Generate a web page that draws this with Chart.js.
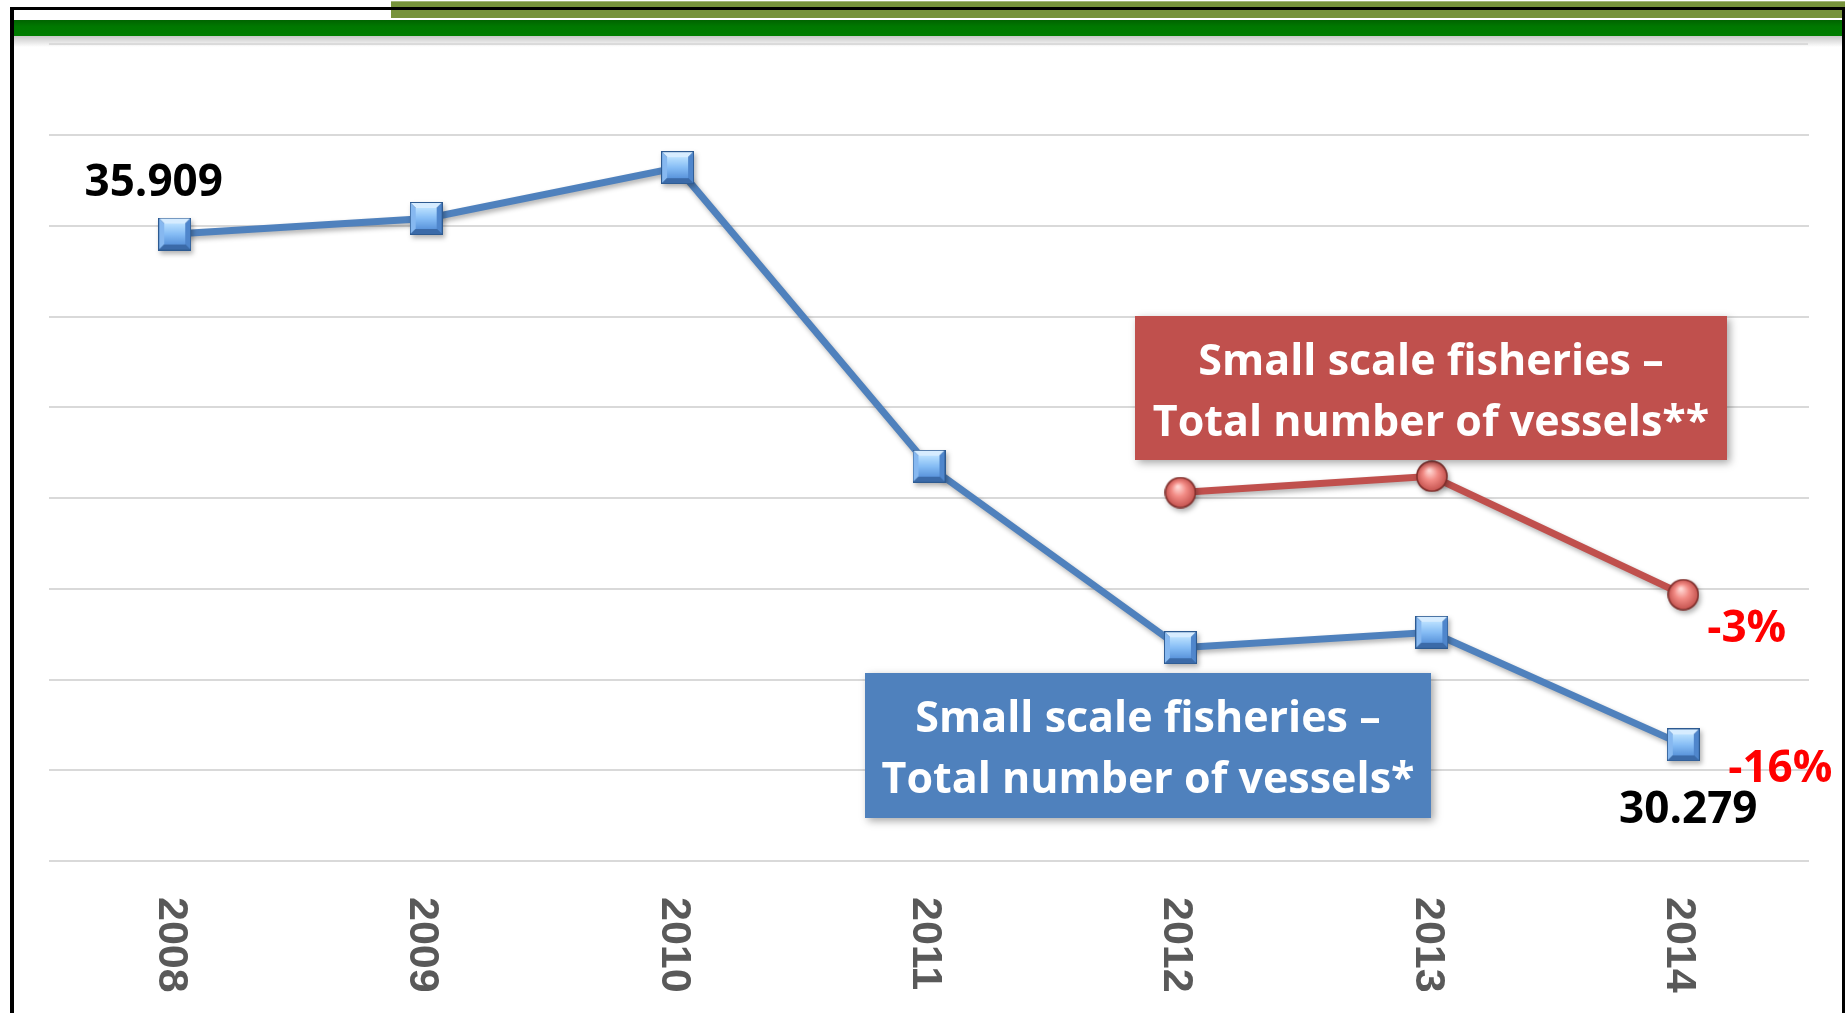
<!DOCTYPE html>
<html>
<head>
<meta charset="utf-8">
<script src="https://cdn.jsdelivr.net/npm/chart.js@4.4.1/dist/chart.umd.min.js"></script>
<style>
	html, body { margin: 0; padding: 0; background: #fff; }
	#wrap { position: relative; width: 1845px; height: 1013px; }
</style>
</head>
<body>
<div id="wrap"><canvas id="myChart"></canvas></div>
<script>
	'use strict';

	var years = ['2008', '2009', '2010', '2011', '2012', '2013', '2014'];
	var vesselsA = [35909, 36080, 36640, 33350, 31350, 31520, 30279];
	var vesselsB = [null, null, null, null, 33060, 33240, 31935];
	var valueLabelsA = ['35.909', '', '', '', '', '', '30.279'];
	var changeLabelsA = ['', '', '', '', '', '', '-16%'];
	var changeLabelsB = ['', '', '', '', '', '', '-3%'];
	var nameA = ['Small scale fisheries \u2013', 'Total number of vessels*'];
	var nameB = ['Small scale fisheries \u2013', 'Total number of vessels**'];
	var yMin = 29000, yMax = 37000, yStep = 1000;

	var BLUE = '#4f81bd';
	var RED = '#c0504d';
	var SANS = '"Open Sans", Lato, sans-serif';

	function poly(g, pts, fill) {
		g.beginPath();
		g.moveTo(pts[0][0], pts[0][1]);
		for (var i = 1; i < pts.length; i++) g.lineTo(pts[i][0], pts[i][1]);
		g.closePath();
		g.fillStyle = fill;
		g.fill();
	}

	// bevelled square marker
	function squareMarker(size) {
		var c = document.createElement('canvas');
		c.width = size; c.height = size;
		var g = c.getContext('2d');
		var s = size - 1, b = 5;
		g.fillStyle = '#2d5a91';
		g.fillRect(0, 0, size, size);
		poly(g, [[1, 1], [s, 1], [s - b, 1 + b], [1 + b, 1 + b]], '#d6ecff');
		poly(g, [[1, 1], [1 + b, 1 + b], [1 + b, s - b], [1, s]], '#86b8f0');
		poly(g, [[s, 1], [s, s], [s - b, s - b], [s - b, 1 + b]], '#4f86cc');
		poly(g, [[1, s], [1 + b, s - b], [s - b, s - b], [s, s]], '#3b6aa8');
		var gr = g.createLinearGradient(0, 1 + b, 0, s - b);
		gr.addColorStop(0, '#b9e0ff');
		gr.addColorStop(0.5, '#86bdf5');
		gr.addColorStop(1, '#5b95dc');
		g.fillStyle = gr;
		g.fillRect(1 + b, 1 + b, s - 1 - 2 * b, s - 1 - 2 * b);
		return c;
	}

	// shaded round marker
	function circleMarker(size) {
		var c = document.createElement('canvas');
		c.width = size; c.height = size;
		var g = c.getContext('2d');
		var r = size / 2 - 1;
		var gr = g.createRadialGradient(size * 0.42, size * 0.32, 1, size / 2, size / 2, r);
		gr.addColorStop(0, '#ffd6d2');
		gr.addColorStop(0.45, '#f28b85');
		gr.addColorStop(1, '#c4524e');
		g.beginPath();
		g.arc(size / 2, size / 2, r, 0, Math.PI * 2);
		g.fillStyle = gr;
		g.fill();
		g.lineWidth = 1.6;
		g.strokeStyle = '#7e2f2c';
		g.stroke();
		return c;
	}

	var decorations = {
		id: 'decorations',
		beforeDraw: function(chart) {
			var c = chart.ctx, W = chart.width, H = chart.height;
			c.save();
			c.fillStyle = '#fff';
			c.fillRect(0, 0, W, H);
			// olive band
			c.fillStyle = '#77933c';
			c.fillRect(391, 1, W - 391, 17);
			c.fillStyle = '#a3b57a';
			c.fillRect(391, 1, W - 391, 1);
			// frame
			c.fillStyle = '#000';
			c.fillRect(10, 7, W - 10, 3);
			c.fillRect(10, 7, 4, H - 7);
			c.fillRect(1842, 7, 3, H - 7);
			// green band
			var gg = c.createLinearGradient(0, 20, 0, 36);
			gg.addColorStop(0, '#006400');
			gg.addColorStop(0.4, '#007800');
			gg.addColorStop(1, '#007d00');
			c.fillStyle = gg;
			c.fillRect(14, 20, 1828, 16);
			var sg = c.createLinearGradient(0, 36, 0, 47);
			sg.addColorStop(0, 'rgba(0,0,0,0.22)');
			sg.addColorStop(1, 'rgba(0,0,0,0)');
			c.fillStyle = sg;
			c.fillRect(14, 36, 1828, 11);
			c.fillStyle = '#dadada';
			c.fillRect(49, 43, 1759, 2);
			c.restore();
		},
		beforeDatasetsDraw: function(chart) {
			var c = chart.ctx;
			c.save();
			c.shadowColor = 'rgba(0,0,0,0.3)';
			c.shadowBlur = 5;
			c.shadowOffsetX = 2;
			c.shadowOffsetY = 3;
		},
		afterDatasetsDraw: function(chart) {
			chart.ctx.restore();
		},
		afterDraw: function(chart) {
			var c = chart.ctx;
			var x = chart.scales.x, y = chart.scales.y;
			c.save();

			// category labels, rotated clockwise
			c.fillStyle = '#595959';
			c.font = 'bold 43px "Liberation Sans"';
			c.textAlign = 'left';
			c.textBaseline = 'alphabetic';
			years.forEach(function(lab, i) {
				c.save();
				c.translate(x.getPixelForValue(i) - 16, 897);
				c.rotate(Math.PI / 2);
				c.fillText(lab, 0, 0);
				c.restore();
			});

			// value labels
			c.font = 'bold 44px ' + SANS;
			c.fillStyle = '#000';
			c.textAlign = 'center';
			c.textBaseline = 'alphabetic';
			valueLabelsA.forEach(function(t, i) {
				if (!t) return;
				var px = x.getPixelForValue(i), py = y.getPixelForValue(vesselsA[i]);
				if (i === 0) c.fillText(t, px - 21, py - 38);
				else c.fillText(t, px + 5, py + 78);
			});

			// change labels
			c.fillStyle = '#ff0000';
			c.textAlign = 'left';
			changeLabelsA.forEach(function(t, i) {
				if (!t) return;
				c.fillText(t, x.getPixelForValue(i) + 45, y.getPixelForValue(vesselsA[i]) + 37);
			});
			changeLabelsB.forEach(function(t, i) {
				if (!t) return;
				c.fillText(t, x.getPixelForValue(i) + 24, y.getPixelForValue(vesselsB[i]) + 47);
			});

			// series callout boxes
			function box(lines, color, l, t, w, h) {
				c.save();
				c.shadowColor = 'rgba(0,0,0,0.35)';
				c.shadowBlur = 8;
				c.shadowOffsetX = 3;
				c.shadowOffsetY = 3;
				c.fillStyle = color;
				c.fillRect(l, t, w, h);
				c.restore();
				c.fillStyle = '#fff';
				c.font = 'bold 43px ' + SANS;
				c.textAlign = 'center';
				c.fillText(lines[0], l + w / 2, t + 59);
				c.fillText(lines[1], l + w / 2, t + 120);
			}
			box(nameB, RED, 1135, 316, 592, 144);
			box(nameA, BLUE, 865, 673, 566, 145);

			c.restore();
		}
	};

	var ctx = document.getElementById('myChart');

	var myChart = new Chart(ctx, {
		type: 'line',
		data: {
			labels: years,
			datasets: [{
				label: nameA.join(' '),
				data: vesselsA,
				borderColor: BLUE,
				borderWidth: 7,
				pointStyle: squareMarker(33),
				pointRadius: 16,
				fill: false,
				tension: 0
			}, {
				label: nameB.join(' '),
				data: vesselsB,
				borderColor: RED,
				borderWidth: 7,
				pointStyle: circleMarker(32),
				pointRadius: 16,
				fill: false,
				tension: 0
			}]
		},
		options: {
			responsive: true,
			maintainAspectRatio: false,
			animation: false,
			layout: {
				padding: { left: 49, right: 36, top: 135, bottom: 152 }
			},
			plugins: {
				legend: { display: false },
				tooltip: { enabled: false }
			},
			scales: {
				x: {
					offset: true,
					grid: { display: false, drawTicks: false },
					border: { display: false },
					ticks: { display: false }
				},
				y: {
					min: yMin,
					max: yMax,
					ticks: { stepSize: yStep, display: false },
					grid: { color: '#d9d9d9', lineWidth: 2, drawTicks: false },
					border: { display: false }
				}
			}
		},
		plugins: [decorations]
	});
</script>
</body>
</html>
